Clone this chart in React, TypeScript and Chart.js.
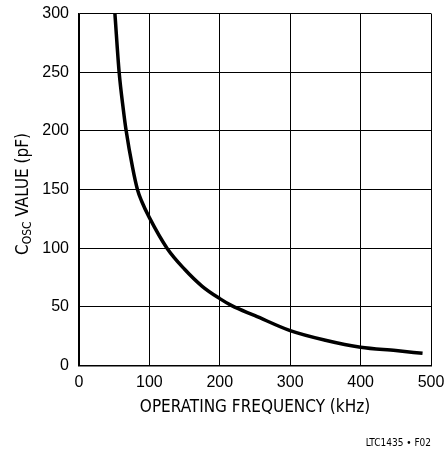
import React, { useEffect, useRef } from "react";
import { Chart, registerables } from "chart.js";

Chart.register(...registerables);

const freqKHz = [51, 57, 63, 67, 76, 83, 89, 100, 125, 150, 175, 200, 217, 250, 300, 350, 400, 450, 488];
const coscPF = [300, 250, 218, 200, 169, 150, 140, 126, 100, 82, 67.5, 57, 51, 42.5, 29.7, 21.5, 15.5, 12.7, 10.4];
const xTicks = [0, 100, 200, 300, 400, 500];
const yTicks = [0, 50, 100, 150, 200, 250, 300];
const xTitle = "OPERATING FREQUENCY (kHz)";
const yTitleMain = "C";
const yTitleSub = "OSC";
const yTitleRest = " VALUE (pF)";
const footnote = "LTC1435 • F02";

const NARROW = '"Liberation Sans Narrow", "DejaVu Sans Condensed", sans-serif';
const SANS = '"Liberation Sans", Arial, sans-serif';

const textPlugin = {
  id: "extraText",
  afterDraw(chart: any) {
    const ctx = chart.ctx as CanvasRenderingContext2D;
    ctx.save();
    ctx.fillStyle = "#000";
    ctx.translate(24, 194);
    ctx.rotate(-Math.PI / 2);
    const big = `17px ${NARROW}`;
    const small = `12px ${NARROW}`;
    ctx.font = big;
    const w1 = ctx.measureText(yTitleMain).width;
    const w3 = ctx.measureText(yTitleRest).width;
    ctx.font = small;
    const w2 = ctx.measureText(yTitleSub).width;
    const total = w1 + w2 + w3;
    let x = -total / 2;
    ctx.textBaseline = "middle";
    ctx.textAlign = "left";
    ctx.font = big;
    ctx.fillText(yTitleMain, x, 0);
    x += w1;
    ctx.font = small;
    ctx.fillText(yTitleSub, x, 4);
    x += w2;
    ctx.font = big;
    ctx.fillText(yTitleRest, x, 0);
    ctx.restore();

    ctx.save();
    ctx.fillStyle = "#000";
    ctx.font = `10px ${NARROW}`;
    ctx.textAlign = "right";
    ctx.textBaseline = "middle";
    ctx.fillText(footnote, 431, 443);
    ctx.restore();
  },
};

export default function App() {
  const ref = useRef<HTMLCanvasElement | null>(null);
  useEffect(() => {
    document.body.style.margin = "0";
    const canvas = ref.current!;
    const chart = new Chart(canvas, {
      type: "line",
      data: {
        datasets: [
          {
            data: freqKHz.map((f, i) => ({ x: f, y: coscPF[i] })),
            borderColor: "#000",
            borderWidth: 3.5,
            pointRadius: 0,
            cubicInterpolationMode: "monotone",
            fill: false,
          },
        ],
      },
      options: {
        responsive: false,
        animation: false,
        devicePixelRatio: 1,
        layout: { padding: { left: 0, right: 17, top: 13.5, bottom: 31.5 } },
        plugins: { legend: { display: false }, tooltip: { enabled: false } },
        scales: {
          x: {
            type: "linear",
            min: 0,
            max: 500,
            afterBuildTicks: (s: any) => {
              s.ticks = xTicks.map((v) => ({ value: v }));
            },
            afterFit: (s: any) => {
              s.height = 52;
              s.paddingLeft = 0;
              s.paddingRight = 0;
            },
            grid: { color: "#000", lineWidth: 1, drawTicks: false },
            border: { color: "#000", width: 1.5 },
            ticks: { color: "#000", font: { family: SANS, size: 16 }, padding: 7, maxRotation: 0 },
            title: {
              display: true,
              text: xTitle,
              color: "#000",
              font: { family: NARROW, size: 17 },
              padding: { top: 7, bottom: 0 },
            },
          },
          y: {
            type: "linear",
            min: 0,
            max: 300,
            afterBuildTicks: (s: any) => {
              s.ticks = yTicks.map((v) => ({ value: v }));
            },
            afterFit: (s: any) => {
              s.width = 79;
              s.paddingTop = 0;
              s.paddingBottom = 0;
            },
            grid: { color: "#000", lineWidth: 1, drawTicks: false },
            border: { color: "#000", width: 1.5 },
            ticks: { color: "#000", font: { family: SANS, size: 16 }, padding: 10 },
          },
        },
      },
      plugins: [textPlugin],
    } as any);
    return () => chart.destroy();
  }, []);
  return (
    <div style={{ position: "fixed", left: 0, top: 0, width: 448, height: 449, background: "#fff" }}>
      <canvas ref={ref} width={448} height={449} style={{ width: 448, height: 449 }} />
    </div>
  );
}
